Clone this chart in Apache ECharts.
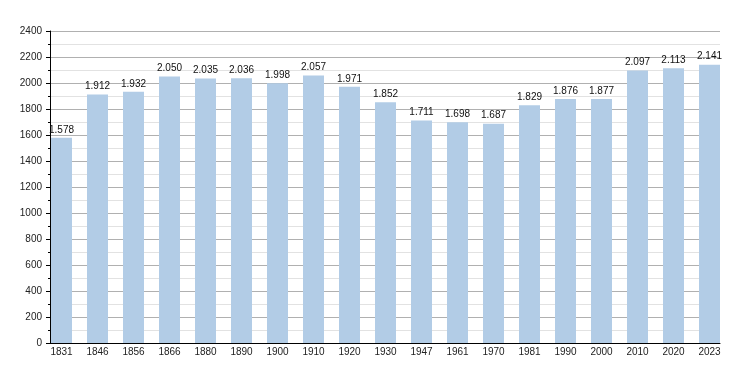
<!DOCTYPE html>
<html><head><meta charset="utf-8">
<script src="https://cdn.jsdelivr.net/npm/echarts@6/dist/echarts.min.js"></script>
<style>html,body{margin:0;padding:0;background:#fff}#c{width:750px;height:373px}</style>
</head><body><div id="c"></div>
<script>
const years = ['1831','1846','1856','1866','1880','1890','1900','1910','1920','1930','1947','1961','1970','1981','1990','2000','2010','2020','2023'];
const population = [1578,1912,1932,2050,2035,2036,1998,2057,1971,1852,1711,1698,1687,1829,1876,1877,2097,2113,2141];
const yMin = 0, yMax = 2400, yStep = 200;

const font = 'Liberation Sans, Arial, sans-serif';
const chart = echarts.init(document.getElementById('c'));
chart.setOption({
  animation: false,
  grid: [
    {left: 50, right: 30, top: 31, bottom: 30},
    {left: 43.5, right: 22.5, top: 31, bottom: 30}
  ],
  xAxis: [
    {gridIndex: 0, type: 'value', min: 0, max: 1, axisLabel: {show: false}, axisTick: {show: false},
     splitLine: {show: false}, axisLine: {show: true, lineStyle: {color: '#000', width: 1}}},
    {gridIndex: 1, type: 'category', data: years, axisLine: {show: false}, axisTick: {show: false},
     axisLabel: {margin: 4, fontSize: 10, fontFamily: font, color: '#222'}}
  ],
  yAxis: [
    {gridIndex: 0, type: 'value', min: yMin, max: yMax, interval: yStep,
     axisLine: {show: true, lineStyle: {color: '#000', width: 1}},
     axisTick: {show: true, length: 4, lineStyle: {color: '#000'}},
     minorTick: {show: true, splitNumber: 2, length: 2, lineStyle: {color: '#000'}},
     axisLabel: {margin: 8, fontSize: 10, fontFamily: font, color: '#222', formatter: v => String(v)},
     splitLine: {show: true, lineStyle: {color: '#b0b0b0', width: 1}},
     minorSplitLine: {show: true, lineStyle: {color: '#e2e2e2', width: 1}}},
    {gridIndex: 1, type: 'value', min: yMin, max: yMax, show: false, splitLine: {show: false}}
  ],
  series: [
    {type: 'bar', xAxisIndex: 1, yAxisIndex: 1, data: population, barWidth: 21,
     itemStyle: {color: '#b2cce6'},
     label: {show: true, position: 'top', distance: 3, fontSize: 10, fontFamily: font, color: '#111',
       formatter: p => { const s = String(p.value); return s.length > 3 ? s.slice(0, s.length-3) + '.' + s.slice(-3) : s; }}}
  ]
});
</script></body></html>
